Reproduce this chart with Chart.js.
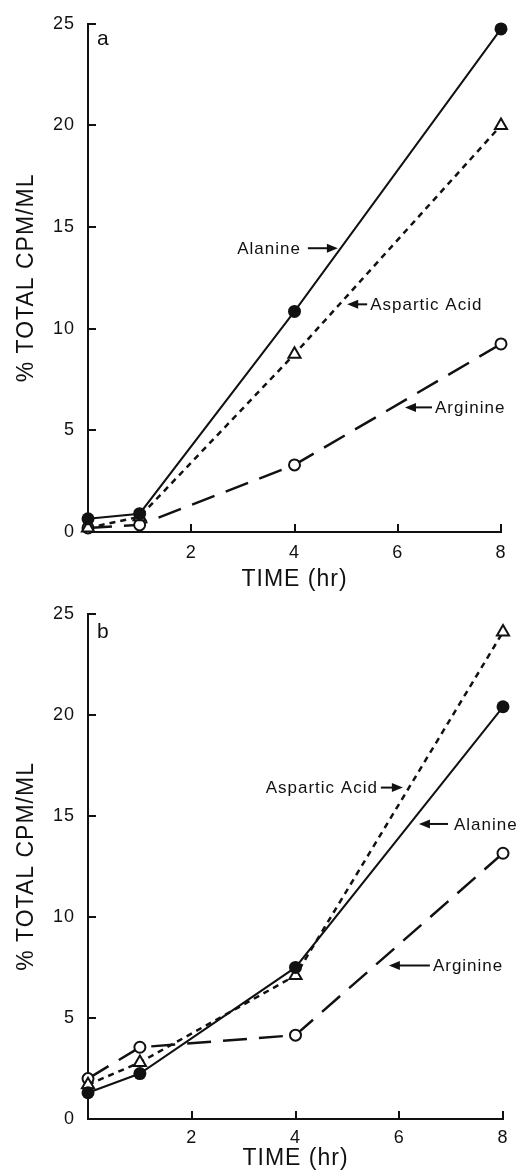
<!DOCTYPE html>
<html>
<head>
<meta charset="utf-8">
<script src="https://cdn.jsdelivr.net/npm/chart.js@4/dist/chart.umd.min.js"></script>
<style>
    html, body { margin: 0; padding: 0; background: #fff; }
    body { width: 526px; height: 1172px; position: relative; overflow: hidden; }
    canvas { position: absolute; left: 0; }
    #chartA { top: 0; }
    #chartB { top: 590px; }
</style>
</head>
<body>
<canvas id="chartA" width="526" height="600"></canvas>
<canvas id="chartB" width="526" height="582"></canvas>
<script>
// 시간 (hr)
const timeHr = [0, 1, 4, 8];

// 패널 a
const alanineA = [0.65, 0.9, 10.85, 24.75];
const asparticA = [0.2, 0.75, 8.75, 20.0];
const arginineA = [0.2, 0.35, 3.3, 9.25];

// 패널 b
const alanineB = [1.3, 2.25, 7.5, 20.4];
const asparticB = [1.7, 2.8, 7.1, 24.1];
const arginineB = [2.0, 3.55, 4.15, 13.15];

// 축 눈금
const xTicks = [2, 4, 6, 8];
const yTicks = [0, 5, 10, 15, 20, 25];

// 화살표 라벨 (데이터 좌표 기준 화살표 끝)
const notesA = [
    { text: 'Alanine', x: 4.84, y: 13.96, side: 'left', len: 30, gap: 7 },
    { text: 'Aspartic Acid', x: 5.02, y: 11.2, side: 'right', len: 20, gap: 3 },
    { text: 'Arginine', x: 6.14, y: 6.13, side: 'right', len: 27, gap: 3 },
];
const notesB = [
    { text: 'Aspartic Acid', x: 6.07, y: 16.4, side: 'left', len: 22, gap: 3 },
    { text: 'Alanine', x: 6.38, y: 14.6, side: 'right', len: 29, gap: 6 },
    { text: 'Arginine', x: 5.8, y: 7.6, side: 'right', len: 41, gap: 3 },
];

const INK = '#111';
const FONT = "'Liberation Sans', Arial, Helvetica, sans-serif";

const spacingPlugin = {
    id: 'spacing',
    beforeInit(chart) {
        chart.ctx.letterSpacing = '1px';
    },
    beforeDraw(chart) {
        chart.ctx.letterSpacing = '1px';
    },
};

// 안쪽 눈금, 화살표 라벨, 패널 글자
const decoPlugin = {
    id: 'deco',
    afterDraw(chart, args, opts) {
        const ctx = chart.ctx;
        const xs = chart.scales.x;
        const ys = chart.scales.y;
        const area = chart.chartArea;
        ctx.save();
        ctx.strokeStyle = INK;
        ctx.fillStyle = INK;
        ctx.lineWidth = 2;
        // 눈금
        ys.ticks.forEach((t) => {
            if (t.value === 0) return;
            const py = Math.round(ys.getPixelForValue(t.value));
            ctx.beginPath();
            ctx.moveTo(area.left, py);
            ctx.lineTo(area.left + 8, py);
            ctx.stroke();
        });
        xs.ticks.forEach((t) => {
            const px = Math.round(xs.getPixelForValue(t.value));
            ctx.beginPath();
            ctx.moveTo(px, area.bottom);
            ctx.lineTo(px, area.bottom - 8);
            ctx.stroke();
        });
        // 패널 글자
        ctx.letterSpacing = '0px';
        ctx.font = '21px ' + FONT;
        ctx.textAlign = 'left';
        ctx.textBaseline = 'alphabetic';
        ctx.fillText(opts.panel, area.left + 9, area.top + opts.panelDy);
        // 화살표 라벨
        ctx.letterSpacing = '1px';
        ctx.font = '17px ' + FONT;
        ctx.textBaseline = 'middle';
        opts.notes.forEach((n) => {
            const tx = xs.getPixelForValue(n.x);
            const ty = ys.getPixelForValue(n.y);
            const dir = n.side === 'left' ? -1 : 1;
            const tail = tx + dir * n.len;
            ctx.lineWidth = 2;
            ctx.beginPath();
            ctx.moveTo(tail, ty);
            ctx.lineTo(tx + dir * 6, ty);
            ctx.stroke();
            ctx.beginPath();
            ctx.moveTo(tx, ty);
            ctx.lineTo(tx + dir * 11, ty - 4.5);
            ctx.lineTo(tx + dir * 11, ty + 4.5);
            ctx.closePath();
            ctx.fill();
            ctx.textAlign = n.side === 'left' ? 'right' : 'left';
            ctx.fillText(n.text, tail + dir * n.gap, ty + 1);
        });
        ctx.restore();
    },
};

function makePanel(id, alanine, aspartic, arginine, notes, panel, layout) {
    const ctx = document.getElementById(id).getContext('2d');
    const toXY = (arr) => arr.map((v, i) => ({ x: timeHr[i], y: v }));
    return new Chart(ctx, {
        type: 'line',
        data: {
            datasets: [
                {
                    label: 'Alanine',
                    data: toXY(alanine),
                    borderColor: INK,
                    borderWidth: 2,
                    pointStyle: 'circle',
                    pointRadius: 6.5,
                    pointBackgroundColor: INK,
                    pointBorderColor: INK,
                    pointBorderWidth: 0,
                    tension: 0,
                    clip: false,
                },
                {
                    label: 'Aspartic Acid',
                    data: toXY(aspartic),
                    borderColor: INK,
                    borderWidth: 2.5,
                    borderDash: [6, 5],
                    pointStyle: 'triangle',
                    pointRadius: 7,
                    pointBackgroundColor: '#fff',
                    pointBorderColor: INK,
                    pointBorderWidth: 2,
                    tension: 0,
                    clip: false,
                },
                {
                    label: 'Arginine',
                    data: toXY(arginine),
                    borderColor: INK,
                    borderWidth: 2.5,
                    borderDash: [24, 12],
                    pointStyle: 'circle',
                    pointRadius: 5.5,
                    pointBackgroundColor: '#fff',
                    pointBorderColor: INK,
                    pointBorderWidth: 2,
                    tension: 0,
                    clip: false,
                },
            ],
        },
        options: {
            responsive: false,
            animation: false,
            devicePixelRatio: 1,
            layout: { padding: { left: 0, right: layout.right, top: layout.top, bottom: 0 } },
            plugins: {
                legend: { display: false },
                tooltip: { enabled: false },
                deco: { notes: notes, panel: panel, panelDy: layout.panelDy },
            },
            scales: {
                x: {
                    type: 'linear',
                    min: 0,
                    max: 8,
                    afterBuildTicks: (s) => { s.ticks = xTicks.map((v) => ({ value: v })); },
                    afterFit: (s) => { s.height = layout.xh; },
                    grid: { display: false, drawTicks: false },
                    border: { display: true, color: INK, width: 2 },
                    ticks: { color: INK, padding: layout.tickPad, font: { family: FONT, size: 18 }, maxRotation: 0 },
                    title: {
                        display: true,
                        text: 'TIME (hr)',
                        color: INK,
                        font: { family: FONT, size: 23 },
                        padding: { top: 0, bottom: layout.titlePad },
                    },
                },
                y: {
                    type: 'linear',
                    min: 0,
                    max: 25,
                    afterBuildTicks: (s) => { s.ticks = yTicks.map((v) => ({ value: v })); },
                    afterFit: (s) => { s.width = 88; },
                    grid: { display: false, drawTicks: false },
                    border: { display: true, color: INK, width: 2 },
                    ticks: { color: INK, padding: 13, font: { family: FONT, size: 18 } },
                    title: {
                        display: true,
                        text: '% TOTAL CPM/ML',
                        color: INK,
                        font: { family: FONT, size: 23 },
                        padding: { top: 13, bottom: 0 },
                    },
                },
            },
        },
        plugins: [spacingPlugin, decoPlugin],
    });
}

makePanel('chartA', alanineA, asparticA, arginineA, notesA, 'a',
    { right: 25, top: 14, xh: 68, titlePad: 7, tickPad: 10, panelDy: 21 });
makePanel('chartB', alanineB, asparticB, arginineB, notesB, 'b',
    { right: 23, top: 18, xh: 53, titlePad: 0, tickPad: 8, panelDy: 24 });
</script>
</body>
</html>
